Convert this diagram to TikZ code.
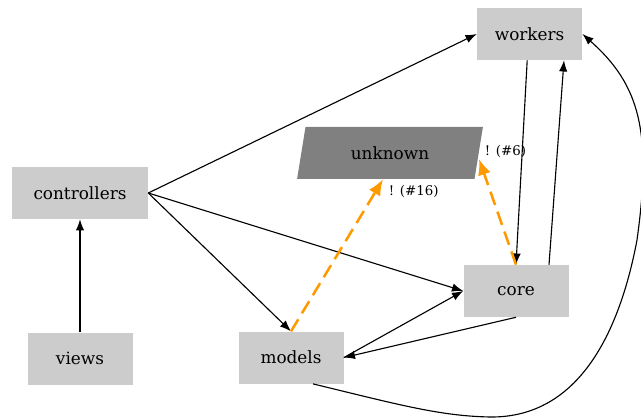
\documentclass[tikz,border=0pt]{standalone}
\usepackage{fontspec}
\setmainfont{DejaVu Serif}
\usepackage{xcolor}
\definecolor{colorModule}{HTML}{CCCCCC}
\definecolor{colorUnknown}{HTML}{808080}
\definecolor{colorViolation}{HTML}{FF9900}
\usetikzlibrary{arrows.meta, positioning, shapes.geometric}
\tikzset{
  module/.style={rectangle, fill=colorModule, minimum width=2.625cm, minimum height=1.3cm, inner xsep=0.3cm, font=\fontsize{12}{14}\selectfont},
  unknownmod/.style={trapezium, trapezium left angle=79, trapezium right angle=101, trapezium stretches=true, fill=colorUnknown, minimum width=4.675cm, minimum height=1.3cm, font=\fontsize{12}{14}\selectfont},
  dep/.style={-{Latex[length=2.8mm,width=2.1mm]}, black, line width=0.8pt},
  violation/.style={-{Latex[length=4mm,width=3.3mm]}, colorViolation, line width=1.8pt, dash pattern=on 10pt off 5pt},
  vlabel/.style={font=\fontsize{9.5}{11}\selectfont, black}
}

\begin{document}
\begin{tikzpicture}
\useasboundingbox (0,0) rectangle (16.025,10.45);
\node[module] (workers) at (13.24,9.6) {workers};
\node[unknownmod] (unknown) at (9.75,6.625) {unknown};
\node[module, minimum width=3.4cm] (controllers) at (2.0,5.625) {controllers};
\node[module] (core) at (12.9,3.175) {core};
\node[module, below=2.825cm of controllers] (views) {views};
\node[module] (models) at (7.275,1.51) {models};
% dependencies
\draw[dep] (views) -- (controllers);
\draw[dep] (controllers.east) -- (workers.west);
\draw[dep] (controllers.east) -- (core.west);
\draw[dep] (controllers.east) -- (models.north);
\draw[dep] (core.south) -- (models.east);
\draw[dep] (models.east) -- (core.west);
\draw[dep] ([xshift=-0.06cm]workers.south) -- (core.north);
\draw[dep] ([xshift=0.825cm]core.north) -- ([xshift=0.86cm]workers.south);
\draw[dep] ([xshift=0.55cm]models.south) .. controls (10,0.325) and (11,0.05) .. (12.25,0.025) .. controls (14.5,0) and (15.5,2.2) .. (15.925,4.45) .. controls (16.3,7.15) and (16,8.325) .. (workers.east);
% violations
\draw[violation] (models.north) -- ([xshift=-0.175cm]unknown.south) node[vlabel, at end, anchor=north west] {! (\#16)};
\draw[violation] (core.north) -- ([yshift=-0.15cm]unknown.east) node[vlabel, at end, anchor=west, yshift=0.2cm] {! (\#6)};
\end{tikzpicture}
\end{document}
